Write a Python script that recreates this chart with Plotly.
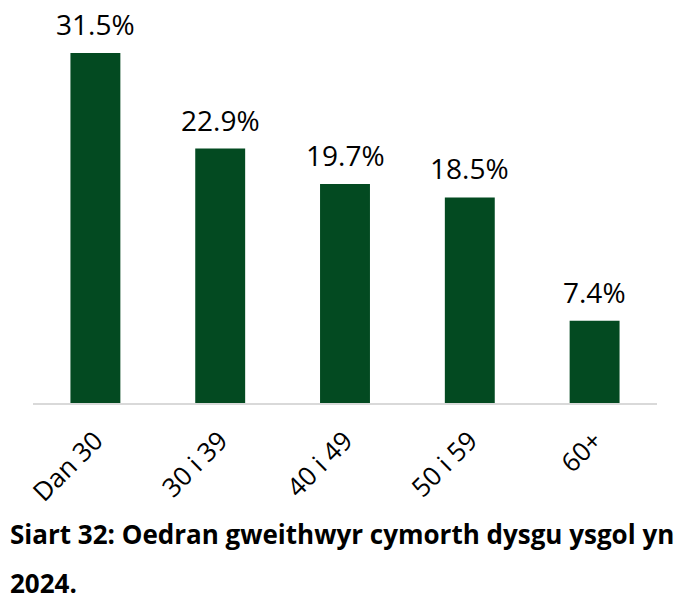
import plotly.graph_objects as go

# age groups and share of school learning support workers (%)
categories = ["Dan 30", "30 i 39", "40 i 49", "50 i 59", "60+"]
values = [31.5, 22.9, 19.7, 18.5, 7.4]
labels = ["31.5%", "22.9%", "19.7%", "18.5%", "7.4%"]

title_line1 = "Siart 32: Oedran gweithwyr cymorth dysgu ysgol yn"
title_line2 = "2024."

GREEN = "#034a21"
FONT = "Open Sans"

# the page body has an 8px margin, so the figure is drawn 8px smaller
fig = go.Figure()
fig.add_trace(go.Bar(
    x=categories,
    y=values,
    marker=dict(color=GREEN, line=dict(width=0)),
    hoverinfo="skip",
))

# value labels sit a bit higher above the bars than plotly's outside text
for cat, val, lab in zip(categories, values, labels):
    fig.add_annotation(
        x=cat, y=val, text=lab,
        xanchor="center", yanchor="bottom",
        yshift=8, showarrow=False,
        font=dict(family=FONT, size=28, color="#000000"),
    )

fig.update_layout(
    width=677,
    height=589,
    margin=dict(l=25, r=28, t=2, b=194, autoexpand=False),
    paper_bgcolor="white",
    plot_bgcolor="white",
    bargap=0.6,
    showlegend=False,
    font=dict(family=FONT, color="#000000"),
)
fig.update_xaxes(
    tickangle=-45,
    tickfont=dict(family=FONT, size=26, color="#000000"),
    ticklabelstandoff=10,
    automargin=False,
    showline=True,
    linecolor="#d9d9d9",
    linewidth=2,
    ticks="",
    showgrid=False,
)
fig.update_yaxes(
    range=[0, 35.37],
    visible=False,
    automargin=False,
    showgrid=False,
    zeroline=False,
)

fig.add_annotation(
    text="<b>" + title_line1 + "</b>",
    xref="paper", yref="paper",
    x=-0.04, y=-0.3333,
    xanchor="left", yanchor="middle",
    showarrow=False,
    font=dict(family=FONT, size=26, color="#000000"),
)
fig.add_annotation(
    text="<b>" + title_line2 + "</b>",
    xref="paper", yref="paper",
    x=-0.04, y=-0.458,
    xanchor="left", yanchor="middle",
    showarrow=False,
    font=dict(family=FONT, size=26, color="#000000"),
)

fig.write_html("out.html")
